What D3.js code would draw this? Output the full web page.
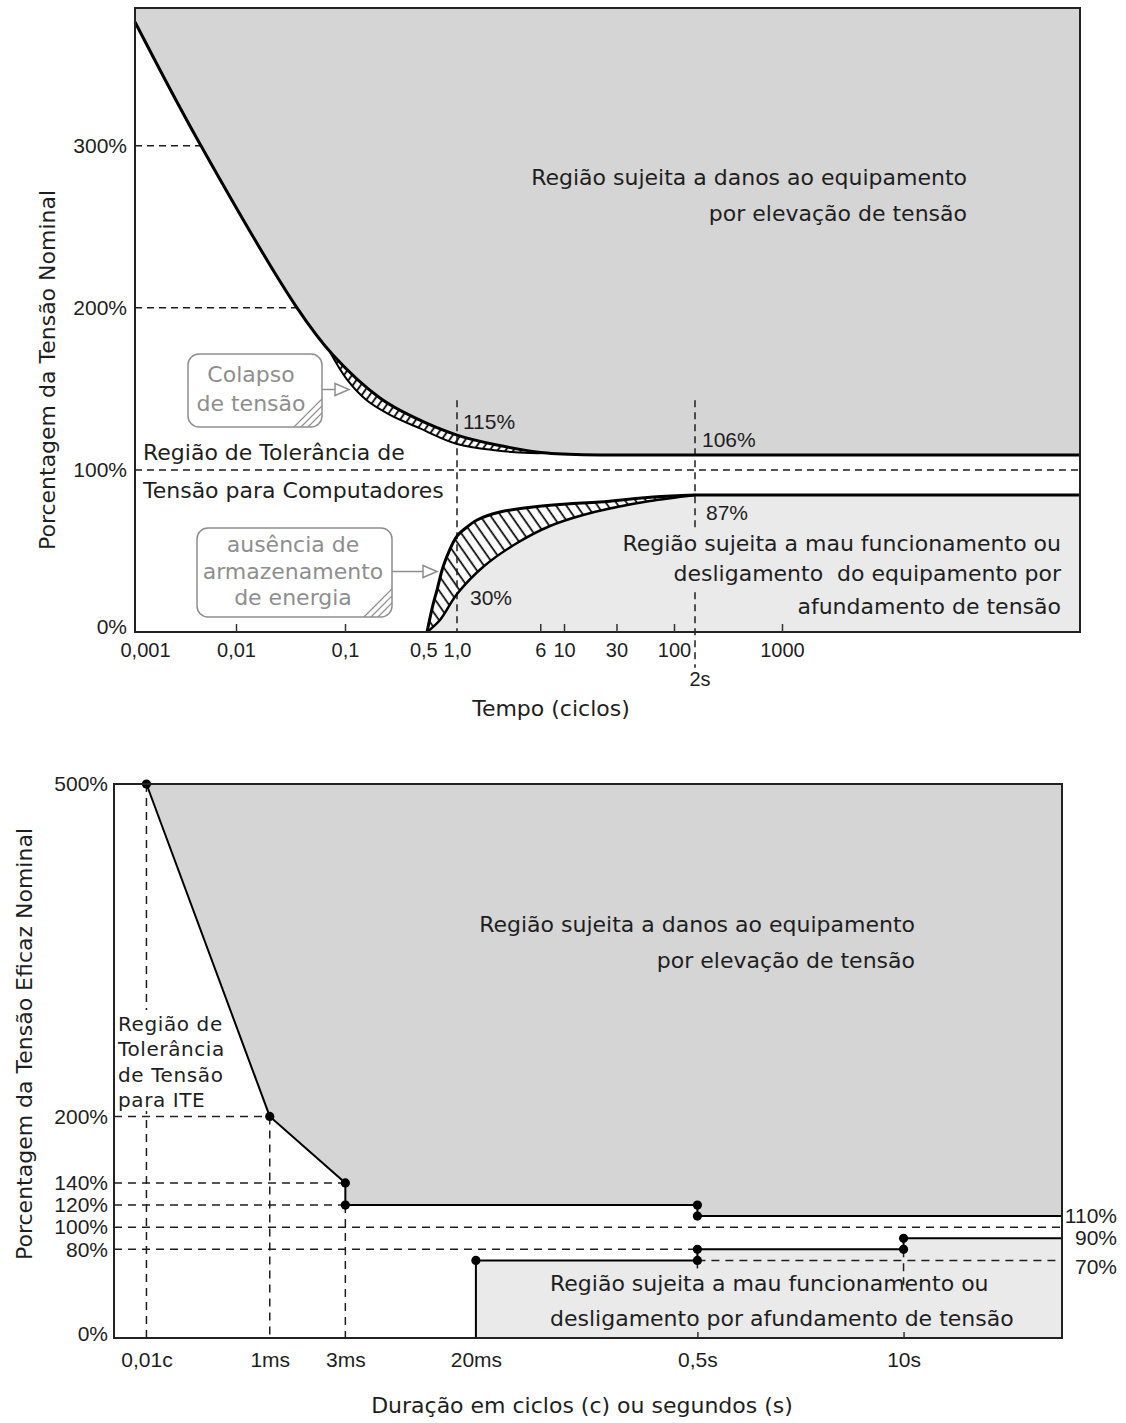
<!DOCTYPE html>
<html>
<head>
<meta charset="utf-8">
<style>
  body { margin: 0; background: #fff; }
  svg { display: block; }
  .word { font-family: "DejaVu Sans", sans-serif; font-size: 22px; fill: #1e1e1e; }
  .num { font-family: "Liberation Sans", Arial, sans-serif; font-size: 21px; fill: #1e1e1e; }
  .note { font-family: "DejaVu Sans", sans-serif; font-size: 22px; fill: #8e8e8e; }
</style>
</head>
<body>
<svg id="chart" width="1126" height="1423"></svg>
<script src="https://cdn.jsdelivr.net/npm/d3@7"></script>
<script>
// ---------------- data: curva CBEMA (ciclos, % da tensao nominal) ----------------
var cbemaTMin = 0.00078, cbemaTMax = 500000, cbemaVMax = 385
var cbemaTicks = [0.001, 0.01, 0.1, 0.5, 1, 6, 10, 30, 100, 1000]
var cbemaTickLabels = ["0,001", "0,01", "0,1", "0,5", "1,0", "6", "10", "30", "100", "1000"]
var cbemaTickMarks = [0.01, 0.1, 6, 10, 30, 100, 1000]
var cbemaYTicks = [0, 100, 200, 300]

// limite de sobretensao (o ultimo ponto e o trecho plano ate o fim do eixo)
var cbemaOver = [[0.00078, 376.4], [0.00402, 301.1], [0.0363, 200], [0.0776, 170.9], [0.205, 144.4], [0.405, 132.7],
  [1, 121.5], [2.36, 115.4], [6.93, 110.4], [21.2, 109.2], [500000, 109.2]]
// borda inferior da faixa "colapso de tensao"
var cbemaCollapse = [[0.0728, 172.7], [0.104, 155.8], [0.157, 142.8], [0.252, 134], [0.467, 125.6], [1, 116],
  [2.36, 112], [4.81, 110.4], [6.93, 110.4]]
// limite de subtensao (borda externa e interna da faixa hachurada)
var cbemaUnderOuter = [[0.54, 0], [0.61, 16.7], [0.663, 25.9], [0.75, 40.1], [0.866, 51.2], [1, 59.2], [1.24, 64.8],
  [1.54, 69.1], [2.52, 74], [5.13, 77.1], [10.6, 79], [21.2, 80.2], [64.4, 83.3], [120, 84.5], [500000, 84.5]]
var cbemaUnderInner = [[0.54, 0], [0.705, 7.4], [1, 23.4], [1.75, 40.1], [3.64, 54.9], [7.4, 65.4], [14.9, 72.2],
  [30.3, 77.1], [60.5, 80.8], [120, 84.5]]
// linhas tracejadas: [valor, inicio, fim]
var cbemaGuidesH = [[300, 0.00078, 0.00402], [200, 0.00078, 0.0363], [100, 0.00078, 500000]]
var cbemaGuidesV = [[1, 0, 143], [120, -22, 143]]

// ---------------- data: curva ITIC (segundos, % da tensao eficaz) ----------------
var iticTMin = 0.000104, iticTMax = 100, iticVMax = 500
var iticTicks = [1 / 6000, 0.001, 0.003, 0.02, 0.5, 10]
var iticTickLabels = ["0,01c", "1ms", "3ms", "20ms", "0,5s", "10s"]
var iticTickMarks = [0.5, 10]
var iticYTicks = [0, 80, 100, 120, 140, 200, 500]
var iticRightTicks = [110, 90, 70]
var iticOver = [[1 / 6000, 500], [0.001, 200], [0.003, 140], [0.003, 120], [0.5, 120], [0.5, 110], [100, 110]]
var iticUnder = [[0.02, 0], [0.02, 70], [0.5, 70], [0.5, 80], [10, 80], [10, 90], [100, 90]]
var iticDots = iticOver.slice(0, 6).concat(iticUnder.slice(1, 6))
var iticGuidesH = [[200, 0.000104, 0.001], [140, 0.000104, 0.003], [120, 0.000104, 0.003], [100, 0.000104, 100],
  [80, 0.000104, 0.5], [70, 0.5, 100]]
var iticGuidesV = [[1 / 6000, 0, 500], [0.001, 0, 200], [0.003, 0, 120], [0.5, 61, 70], [10, 48, 80]]

var svg = d3.select("#chart")
var darkFill = "#d5d5d5", lightFill = "#eaeaea", ink = "#1e1e1e", noteInk = "#8e8e8e"

// hachuras
var defs = svg.append("defs")
defs.append("pattern").attr("id", "hatchUnder").attr("patternUnits", "userSpaceOnUse")
  .attr("width", 8.5).attr("height", 8).attr("patternTransform", "rotate(-35)")
  .append("line").attr("x1", 4).attr("y1", 0).attr("x2", 4).attr("y2", 8)
  .attr("stroke", "#000").attr("stroke-width", 1.7)
defs.append("pattern").attr("id", "hatchCollapse").attr("patternUnits", "userSpaceOnUse")
  .attr("width", 6.5).attr("height", 6).attr("patternTransform", "rotate(35)")
  .append("line").attr("x1", 3).attr("y1", 0).attr("x2", 3).attr("y2", 6)
  .attr("stroke", "#000").attr("stroke-width", 1.8)

function addLines(g, cls, x, y, lines, step, anchor) {
  lines.forEach(function(s, i) {
    g.append("text").attr("class", cls).attr("x", x).attr("y", y + i * step)
      .attr("text-anchor", anchor || "start").style("white-space", "pre").text(s)
  })
}

function callout(g, id, x, y, w, h, lines, step, textX, textY, arrowLen) {
  var clip = defs.append("clipPath").attr("id", id)
  clip.append("rect").attr("x", x).attr("y", y).attr("width", w).attr("height", h).attr("rx", 11)
  g.append("rect").attr("x", x).attr("y", y).attr("width", w).attr("height", h).attr("rx", 11)
    .attr("fill", "#fff").attr("stroke", noteInk).attr("stroke-width", 1.5)
  var corner = g.append("g").attr("clip-path", "url(#" + id + ")")
  ;[0, 7, 14].forEach(function(k) {
    corner.append("line").attr("x1", x + w - 28 + k).attr("y1", y + h).attr("x2", x + w).attr("y2", y + h - 28 + k)
      .attr("stroke", noteInk).attr("stroke-width", 1.2)
  })
  addLines(g, "note", textX, textY, lines, step, "middle")
  var ay = y + h / 2 - 1
  g.append("line").attr("x1", x + w).attr("y1", ay).attr("x2", x + w + arrowLen).attr("y2", ay)
    .attr("stroke", noteInk).attr("stroke-width", 1.5)
  g.append("polygon")
    .attr("points", [[x + w + arrowLen, ay - 6], [x + w + arrowLen + 14, ay], [x + w + arrowLen, ay + 6]].join(" "))
    .attr("fill", "#fff").attr("stroke", noteInk).attr("stroke-width", 1.5)
}

////////////////////////////////////////////////////////// grafico de cima (CBEMA)
var xTop = d3.scaleLog()
  .domain([cbemaTMin, 0.001, 0.01, 0.1, 1, 10, 100, 120, 1000, cbemaTMax])
  .range([135, 145, 236, 345, 457, 564, 674, 695, 782, 1080])
var yTop = d3.scaleLinear().domain([0, cbemaVMax]).range([632, 8])

var curveTop = d3.line().x(d => xTop(d[0])).y(d => yTop(d[1])).curve(d3.curveCatmullRom.alpha(0.5))
var straightTop = d3.line().x(d => xTop(d[0])).y(d => yTop(d[1]))
function cont(path) { return path.replace(/^M/, "L") }
// trecho curvo + trecho plano final em linha reta
function smoothThenFlat(arr) { return curveTop(arr.slice(0, -1)) + cont(straightTop(arr.slice(-2))) }

var gTop = svg.append("g")

// regiao de sobretensao
gTop.append("path")
  .attr("d", smoothThenFlat(cbemaOver) + cont(straightTop([[cbemaTMax, cbemaVMax], [cbemaTMin, cbemaVMax]])) + "Z")
  .attr("fill", darkFill)

// regiao de subtensao
var underFlat = cbemaUnderOuter[cbemaUnderOuter.length - 1][1]
gTop.append("path")
  .attr("d", curveTop(cbemaUnderInner) + cont(straightTop([[cbemaTMax, underFlat], [cbemaTMax, 0]])) + "Z")
  .attr("fill", lightFill)

// faixa "colapso de tensao"
var c0 = cbemaCollapse[0], c1 = cbemaCollapse[cbemaCollapse.length - 1]
var collapseBack = [c1].concat(cbemaOver.filter(d => d[0] > c0[0] && d[0] < c1[0]).reverse(), [c0])
var collapseBand = curveTop(cbemaCollapse) + cont(curveTop(collapseBack)) + "Z"
gTop.append("path").attr("d", collapseBand).attr("fill", "#fff")
gTop.append("path").attr("d", collapseBand).attr("fill", "url(#hatchCollapse)")

// faixa "ausencia de armazenamento"
var outerCurve = cbemaUnderOuter.filter(d => d[0] <= 120)
var underBand = curveTop(outerCurve) + cont(curveTop(cbemaUnderInner.slice().reverse())) + "Z"
gTop.append("path").attr("d", underBand).attr("fill", "#fff")
gTop.append("path").attr("d", underBand).attr("fill", "url(#hatchUnder)")

// tracejados
gTop.selectAll(".gh").data(cbemaGuidesH).join("line")
  .attr("x1", d => xTop(d[1])).attr("x2", d => xTop(d[2]))
  .attr("y1", d => yTop(d[0])).attr("y2", d => yTop(d[0]))
  .attr("stroke", ink).attr("stroke-width", 1.5).attr("stroke-dasharray", "7,5")
gTop.selectAll(".gv").data(cbemaGuidesV).join("line")
  .attr("x1", d => xTop(d[0])).attr("x2", d => xTop(d[0]))
  .attr("y1", d => yTop(d[2])).attr("y2", d => yTop(d[1]))
  .attr("stroke", ink).attr("stroke-width", 1.5).attr("stroke-dasharray", "7,5")
// dashed line must stay hidden behind the text box
gTop.append("rect").attr("x", 618).attr("y", 530).attr("width", 446).attr("height", 58).attr("fill", lightFill)

// curvas
gTop.append("path").attr("d", smoothThenFlat(cbemaOver)).attr("fill", "none").attr("stroke", "#000").attr("stroke-width", 3)
gTop.append("path").attr("d", curveTop(cbemaCollapse)).attr("fill", "none").attr("stroke", "#000").attr("stroke-width", 2)
gTop.append("path").attr("d", smoothThenFlat(cbemaUnderOuter)).attr("fill", "none").attr("stroke", "#000").attr("stroke-width", 3)
gTop.append("path").attr("d", curveTop(cbemaUnderInner)).attr("fill", "none").attr("stroke", "#000").attr("stroke-width", 2.5)

// moldura
gTop.append("rect")
  .attr("x", xTop(cbemaTMin)).attr("y", yTop(cbemaVMax))
  .attr("width", xTop(cbemaTMax) - xTop(cbemaTMin)).attr("height", yTop(0) - yTop(cbemaVMax))
  .attr("fill", "none").attr("stroke", "#222").attr("stroke-width", 2)

// eixos
var topMarks = gTop.append("g").attr("transform", "translate(0," + yTop(0) + ")")
  .call(d3.axisBottom(xTop).tickValues(cbemaTickMarks).tickSize(-8).tickFormat(""))
topMarks.select(".domain").remove()
topMarks.selectAll("line").attr("stroke", "#333").attr("stroke-width", 1.5)

var topX = gTop.append("g").attr("transform", "translate(0," + yTop(0) + ")")
  .call(d3.axisBottom(xTop).tickValues(cbemaTicks).tickSize(0).tickPadding(11).tickFormat((d, i) => cbemaTickLabels[i]))
topX.select(".domain").remove()
topX.selectAll("text").attr("class", "num").style("font-size", "20px").attr("fill", null)

var topY = gTop.append("g").attr("transform", "translate(" + xTop(cbemaTMin) + ",0)")
  .call(d3.axisLeft(yTop).tickValues(cbemaYTicks).tickSize(0).tickPadding(8).tickFormat(d => d + "%"))
topY.select(".domain").remove()
topY.selectAll("text").attr("class", "num").attr("fill", null).attr("dy", d => d == 0 ? "0.05em" : "0.32em")

gTop.append("text").attr("class", "num").attr("x", xTop(120) + 5).attr("y", 686).attr("text-anchor", "middle").style("font-size", "20px").text("2s")
gTop.append("text").attr("class", "word").attr("text-anchor", "middle").attr("x", 551).attr("y", 716).text("Tempo (ciclos)")
gTop.append("text").attr("class", "word").attr("text-anchor", "middle")
  .attr("transform", "translate(55,370) rotate(-90)").text("Porcentagem da Tensão Nominal")

// valores marcados
gTop.append("text").attr("class", "num").attr("x", xTop(1) + 6).attr("y", yTop(121.5) - 6).text("115%")
gTop.append("text").attr("class", "num").attr("x", xTop(120) + 7).attr("y", yTop(109.2) - 8).text("106%")
gTop.append("text").attr("class", "num").attr("x", xTop(120) + 11).attr("y", yTop(84.5) + 25).text("87%")
gTop.append("text").attr("class", "num").attr("x", xTop(1) + 13).attr("y", yTop(23.4) + 11).text("30%")

// textos das regioes
addLines(gTop, "word", 967, 185, ["Região sujeita a danos ao equipamento", "por elevação de tensão"], 36, "end")
addLines(gTop, "word", 143, 460, ["Região de Tolerância de", "Tensão para Computadores"], 38)
gTop.append("text").attr("class", "word").attr("x", 1061).attr("y", 551).attr("text-anchor", "end").text("Região sujeita a mau funcionamento ou")
gTop.append("text").attr("class", "word").attr("x", 1061).attr("y", 581).attr("text-anchor", "end")
  .attr("xml:space", "preserve").style("white-space", "pre").text("desligamento  do equipamento por")
gTop.append("text").attr("class", "word").attr("x", 1061).attr("y", 614).attr("text-anchor", "end").text("afundamento de tensão")

callout(gTop, "clipBox1", 188, 354, 134, 73, ["Colapso", "de tensão"], 29, 251, 382, 13)
callout(gTop, "clipBox2", 197, 528, 195, 89, ["ausência de", "armazenamento", "de energia"], 26.5, 293, 552, 31)

////////////////////////////////////////////////////////// grafico de baixo (ITIC)
var xBot = d3.scaleLog().domain([iticTMin, iticTMax]).range([114, 1062])
var yBot = d3.scaleLinear().domain([0, iticVMax]).range([1338, 784])
var lineBot = d3.line().x(d => xBot(d[0])).y(d => yBot(d[1]))

var gBot = svg.append("g")

gBot.append("path").attr("d", lineBot(iticOver.concat([[iticTMax, iticVMax]])) + "Z").attr("fill", darkFill)
gBot.append("path").attr("d", lineBot(iticUnder.concat([[iticTMax, 0]])) + "Z").attr("fill", lightFill)

gBot.selectAll(".gh").data(iticGuidesH).join("line")
  .attr("x1", d => xBot(d[1])).attr("x2", d => xBot(d[2]))
  .attr("y1", d => yBot(d[0])).attr("y2", d => yBot(d[0]))
  .attr("stroke", ink).attr("stroke-width", 1.5).attr("stroke-dasharray", "8,6")
gBot.selectAll(".gv").data(iticGuidesV).join("line")
  .attr("x1", d => xBot(d[0])).attr("x2", d => xBot(d[0]))
  .attr("y1", d => yBot(d[2])).attr("y2", d => yBot(d[1]))
  .attr("stroke", ink).attr("stroke-width", 1.5).attr("stroke-dasharray", "8,6")

// fundo branco do texto "Regiao de Tolerancia"
gBot.append("rect").attr("x", 116).attr("y", 1010).attr("width", 112).attr("height", 101).attr("fill", "#fff")

gBot.append("path").attr("d", lineBot(iticOver)).attr("fill", "none").attr("stroke", "#000").attr("stroke-width", 2)
gBot.append("path").attr("d", lineBot(iticUnder)).attr("fill", "none").attr("stroke", "#000").attr("stroke-width", 2)
gBot.selectAll(".dot").data(iticDots).join("circle")
  .attr("cx", d => xBot(d[0])).attr("cy", d => yBot(d[1])).attr("r", 4.6).attr("fill", "#000")

gBot.append("rect")
  .attr("x", xBot(iticTMin)).attr("y", yBot(iticVMax))
  .attr("width", xBot(iticTMax) - xBot(iticTMin)).attr("height", yBot(0) - yBot(iticVMax))
  .attr("fill", "none").attr("stroke", "#222").attr("stroke-width", 2)

var botMarks = gBot.append("g").attr("transform", "translate(0," + yBot(0) + ")")
  .call(d3.axisBottom(xBot).tickValues(iticTickMarks).tickSize(-6).tickFormat(""))
botMarks.select(".domain").remove()
botMarks.selectAll("line").attr("stroke", "#333").attr("stroke-width", 1.5)

var botX = gBot.append("g").attr("transform", "translate(0," + yBot(0) + ")")
  .call(d3.axisBottom(xBot).tickValues(iticTicks).tickSize(0).tickPadding(14).tickFormat((d, i) => iticTickLabels[i]))
botX.select(".domain").remove()
botX.selectAll("text").attr("class", "num").attr("fill", null)

var botY = gBot.append("g").attr("transform", "translate(" + xBot(iticTMin) + ",0)")
  .call(d3.axisLeft(yBot).tickValues(iticYTicks).tickSize(0).tickPadding(6).tickFormat(d => d + "%"))
botY.select(".domain").remove()
botY.selectAll("text").attr("class", "num").attr("fill", null).attr("dy", d => d == 0 ? "0.1em" : "0.32em")

var botR = gBot.append("g").attr("transform", "translate(" + xBot(iticTMax) + ",0)")
  .call(d3.axisRight(yBot).tickValues(iticRightTicks).tickSize(0).tickPadding(55).tickFormat(d => d + "%"))
botR.select(".domain").remove()
botR.selectAll("text").attr("class", "num").attr("fill", null).attr("text-anchor", "end")
  .attr("dy", d => d == 70 ? "0.62em" : "0.3em")

gBot.append("text").attr("class", "word").attr("text-anchor", "middle").attr("x", 582).attr("y", 1413)
  .text("Duração em ciclos (c) ou segundos (s)")
gBot.append("text").attr("class", "word").attr("text-anchor", "middle")
  .attr("transform", "translate(32,1044) rotate(-90)").text("Porcentagem da Tensão Eficaz Nominal")

addLines(gBot, "word", 915, 932, ["Região sujeita a danos ao equipamento", "por elevação de tensão"], 36, "end")
addLines(gBot, "word", 118, 1031, ["Região de", "Tolerância", "de Tensão", "para ITE"], 25.3)
gBot.selectAll("text").filter(function() { return this.getAttribute("x") == "118" }).style("font-size", "20px").style("letter-spacing", "0.6px")
addLines(gBot, "word", 550, 1291, ["Região sujeita a mau funcionamento ou", "desligamento por afundamento de tensão"], 35)
</script>
</body>
</html>
